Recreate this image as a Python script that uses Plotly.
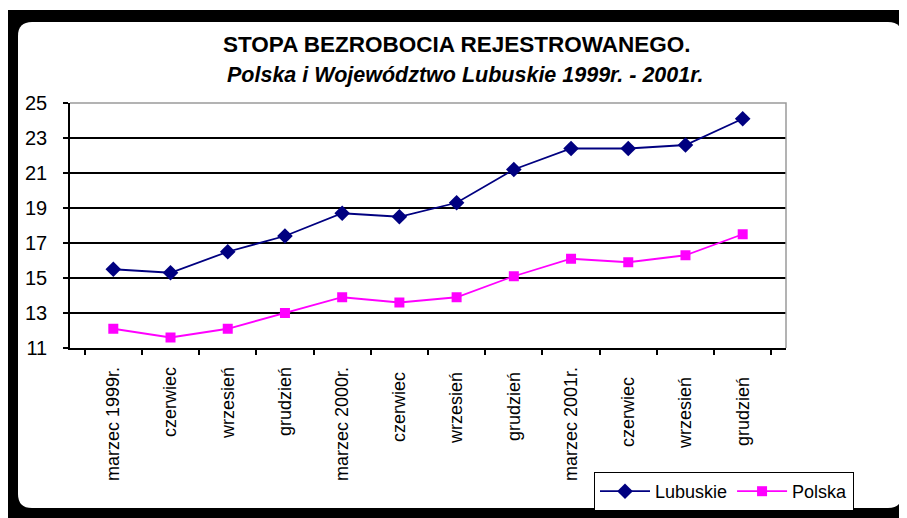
import plotly.graph_objects as go

categories = ["marzec 1999r.", "czerwiec", "wrzesień", "grudzień",
              "marzec 2000r.", "czerwiec ", "wrzesień ", "grudzień ",
              "marzec 2001r.", "czerwiec  ", "wrzesień  ", "grudzień  "]
lubuskie = [15.5, 15.3, 16.5, 17.4, 18.7, 18.5, 19.3, 21.2, 22.4, 22.4, 22.6, 24.1]
polska = [12.1, 11.6, 12.1, 13.0, 13.9, 13.6, 13.9, 15.1, 16.1, 15.9, 16.3, 17.5]
y_ticks = [11, 13, 15, 17, 19, 21, 23, 25]

W_PAGE, H_PAGE = 907, 518
OFF = 8  # page body margin
# plot area in page pixel coordinates
L, R, T, B = 70, 786, 103, 348
PW, PH = R - L, B - T


def px(x):
    return (x - L) / PW


def py(y):
    return (B - y) / PH


def rounded_path(x0, y0, x1, y1, r):
    pts = [
        f"M {px(x0 + r)},{py(y0)}",
        f"L {px(x1 - r)},{py(y0)}",
        f"Q {px(x1)},{py(y0)} {px(x1)},{py(y0 + r)}",
        f"L {px(x1)},{py(y1 - r)}",
        f"Q {px(x1)},{py(y1)} {px(x1 - r)},{py(y1)}",
        f"L {px(x0 + r)},{py(y1)}",
        f"Q {px(x0)},{py(y1)} {px(x0)},{py(y1 - r)}",
        f"L {px(x0)},{py(y0 + r)}",
        f"Q {px(x0)},{py(y0)} {px(x0 + r)},{py(y0)}",
        "Z",
    ]
    return " ".join(pts)


fig = go.Figure()
fig.add_trace(go.Scatter(
    x=categories, y=lubuskie, name="Lubuskie", mode="lines+markers",
    line=dict(color="#000080", width=1.8),
    marker=dict(symbol="diamond", size=12, color="#000080"),
))
fig.add_trace(go.Scatter(
    x=categories, y=polska, name="Polska", mode="lines+markers",
    line=dict(color="#FF00FF", width=1.8),
    marker=dict(symbol="square", size=10, color="#FF00FF"),
))

shapes = [
    dict(type="rect", xref="paper", yref="paper",
         x0=px(7), x1=px(930), y0=py(540), y1=py(10),
         fillcolor="black", line=dict(width=0), layer="below"),
    dict(type="path", xref="paper", yref="paper",
         path=rounded_path(18, 22, 902, 508, 14),
         fillcolor="white", line=dict(width=0), layer="below"),
    dict(type="path", xref="paper", yref="paper",
         path="M 0,1 L 1,1 L 1,0",
         line=dict(color="#9a9a9a", width=1.5), layer="above"),
]

fig.update_layout(
    width=W_PAGE, height=H_PAGE,
    margin=dict(l=L - OFF, r=W_PAGE - (R - OFF), t=T - OFF, b=H_PAGE - (B - OFF), pad=0),
    paper_bgcolor="white",
    plot_bgcolor="rgba(0,0,0,0)",
    font=dict(family="Liberation Sans, Arial", color="black", size=16),
    shapes=shapes,
    showlegend=True,
    legend=dict(
        orientation="h", x=px(594), y=py(472), xanchor="left", yanchor="top",
        bgcolor="white", bordercolor="black", borderwidth=1,
        font=dict(size=18, family="Liberation Sans, Arial", color="black"),
        itemwidth=50, tracegroupgap=0,
    ),
    annotations=[
        dict(text="<b>STOPA BEZROBOCIA REJESTROWANEGO.</b>",
             xref="paper", yref="paper", x=px(457), y=py(44),
             xanchor="center", yanchor="middle", showarrow=False,
             font=dict(size=22.5, family="Liberation Sans, Arial", color="black")),
        dict(text="<b><i>Polska i Województwo Lubuskie 1999r. - 2001r.</i></b>",
             xref="paper", yref="paper", x=px(465), y=py(75),
             xanchor="center", yanchor="middle", showarrow=False,
             font=dict(size=21.5, family="Liberation Sans, Arial", color="black")),
    ],
)

fig.update_xaxes(
    type="category", showgrid=False, showline=True, linecolor="black", linewidth=1.5,
    ticks="outside", tickson="boundaries", ticklen=5, tickcolor="black", tickwidth=1.5,
    tickangle=-90, tickfont=dict(size=18, color="black"), ticklabelstandoff=10,
    zeroline=False, fixedrange=True,
)
fig.update_yaxes(
    range=[11, 25], tickvals=y_ticks, showgrid=True, gridcolor="black", gridwidth=1.5,
    showline=True, linecolor="black", linewidth=1.5,
    ticks="outside", ticklen=5, tickcolor="black", tickwidth=1.5,
    tickfont=dict(size=20, color="black"), ticklabelstandoff=12,
    zeroline=False, fixedrange=True,
)

fig.write_html("out.html")
